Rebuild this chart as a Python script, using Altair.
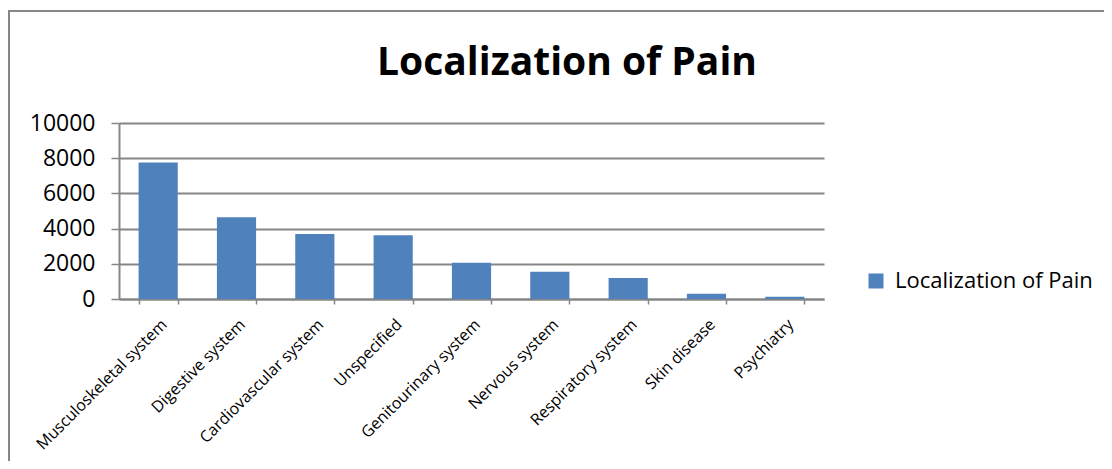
import altair as alt
import pandas as pd

categories = [
    "Musculoskeletal system",
    "Digestive system",
    "Cardiovascular system",
    "Unspecified",
    "Genitourinary system",
    "Nervous system",
    "Respiratory system",
    "Skin disease",
    "Psychiatry",
]
values = [7760, 4640, 3700, 3620, 2060, 1550, 1190, 300, 130]
series_name = "Localization of Pain"
chart_title = "Localization of Pain"
y_ticks = [0, 2000, 4000, 6000, 8000, 10000]

df = pd.DataFrame({"category": categories, "value": values, "series": [series_name] * len(categories)})

FONT = "Open Sans"
GRID = "#868686"

bars = alt.Chart(df).mark_bar(color="#4F81BD").encode(
    x=alt.X(
        "category:N",
        sort=None,
        title=None,
        scale=alt.Scale(paddingInner=0.5, paddingOuter=0.25),
        axis=alt.Axis(
            labelAngle=-45,
            labelFontSize=16,
            labelFont=FONT,
            labelColor="#000000",
            tickBand="extent",
            tickSize=5,
            tickColor=GRID,
            tickWidth=1.5,
            domainColor=GRID,
            domainWidth=2,
            grid=False,
            labelPadding=12,
        ),
    ),
    y=alt.Y(
        "value:Q",
        title=None,
        scale=alt.Scale(domain=[0, 10000], nice=False),
        axis=alt.Axis(
            values=y_ticks,
            format="d",
            labelFontSize=23,
            labelFont=FONT,
            labelColor="#000000",
            tickSize=8,
            tickColor=GRID,
            tickWidth=1.5,
            domainColor=GRID,
            domainWidth=2,
            grid=True,
            gridColor=GRID,
            gridWidth=2,
            labelPadding=16,
        ),
    ),
    color=alt.Color(
        "series:N",
        scale=alt.Scale(range=["#4F81BD"]),
        legend=alt.Legend(
            title=None,
            orient="none",
            legendX=746,
            legendY=147,
            symbolType="square",
            symbolSize=225,
            symbolStrokeWidth=0,
            labelFont=FONT,
            labelFontSize=22,
            labelColor="#000000",
            labelLimit=400,
            labelOffset=8,
        ),
    ),
)

one = alt.Data(values=[{}])

border = alt.Chart(one).mark_rect(
    fill=None, stroke=GRID, strokeWidth=2
).encode(
    x=alt.value(-110),
    x2=alt.value(1100),
    y=alt.value(-112),
    y2=alt.value(400),
)

title_mark = alt.Chart(one).mark_text(
    text=chart_title,
    font=FONT,
    fontSize=39,
    fontWeight="bold",
    color="#000000",
    align="center",
    baseline="alphabetic",
).encode(
    x=alt.value(448),
    y=alt.value(-48),
)

chart = alt.layer(border, title_mark, bars).properties(
    width=705,
    height=176,
    autosize=alt.AutoSizeParams(type="none"),
    padding={"left": 111, "top": 115, "right": 280, "bottom": 162},
).configure_view(stroke=None)

chart.save("out.html", embed_options={"renderer": "svg", "actions": False})
